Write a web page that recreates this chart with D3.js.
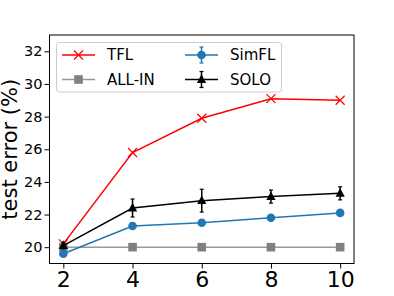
<!DOCTYPE html>
<html>
<head>
<meta charset="utf-8">
<script src="https://cdn.jsdelivr.net/npm/d3@7"></script>
<style>
  body { margin: 0; background: #fff; }
  text { font-family: "DejaVu Sans", sans-serif; }
</style>
</head>
<body>
<div id="chart"></div>
<script>
// data
var xs = [2, 4, 6, 8, 10];
var tfl = [20.2, 25.8, 27.9, 29.1, 29.0];
var allin = [20, 20, 20, 20, 20];
var simfl = [19.6, 21.3, 21.5, 21.8, 22.1];
var simflErr = [0.1, 0.1, 0.1, 0.1, 0.1];
var solo = [20.1, 22.4, 22.85, 23.1, 23.3];
var soloErr = [0.2, 0.55, 0.7, 0.4, 0.4];
var xTicks = [2, 4, 6, 8, 10];
var yTicks = [20, 22, 24, 26, 28, 30, 32];

var w = 394;
var h = 296;
var mLeft = 49.5, mRight = 354, mTop = 35, mBottom = 263.5;

var svg = d3.select("#chart").append("svg")
    .attr("width", w)
    .attr("height", h);

var x = d3.scaleLinear().domain([1.6, 10.4]).range([mLeft, mRight]);
var y = d3.scaleLinear().domain([19, 33]).range([mBottom, mTop]);

// axes
var xAxis = svg.append("g")
    .attr("transform", "translate(0," + mBottom + ")")
    .call(d3.axisBottom(x).tickValues(xTicks).tickSize(5).tickPadding(3).tickFormat(d3.format("d")));
xAxis.selectAll("text").attr("font-size", "22px").attr("fill", "#000");

var yAxis = svg.append("g")
    .attr("transform", "translate(" + mLeft + ",0)")
    .call(d3.axisLeft(y).tickValues(yTicks).tickSize(5).tickPadding(2).tickFormat(d3.format("d")));
yAxis.selectAll("text").attr("font-size", "14.5px").attr("fill", "#000");

svg.selectAll(".domain").remove();
svg.selectAll(".tick line").attr("stroke", "#000").attr("stroke-width", 1);

svg.append("rect")
    .attr("x", mLeft)
    .attr("y", mTop)
    .attr("width", mRight - mLeft)
    .attr("height", mBottom - mTop)
    .attr("fill", "none")
    .attr("stroke", "#000")
    .attr("stroke-width", 1);

svg.append("text")
    .attr("transform", "translate(17," + ((mTop + mBottom) / 2) + ") rotate(-90)")
    .attr("text-anchor", "middle")
    .attr("font-size", "21px")
    .text("test error (%)");

var line = d3.line()
    .x(function(d, i) { return x(xs[i]); })
    .y(function(d) { return y(d); });

var plot = svg.append("g");

function drawMarker(g, type, color, cx, cy) {
    if (type === "x") {
        g.append("path")
            .attr("d", "M" + (cx - 4.5) + "," + (cy - 4.5) + "L" + (cx + 4.5) + "," + (cy + 4.5) +
                "M" + (cx - 4.5) + "," + (cy + 4.5) + "L" + (cx + 4.5) + "," + (cy - 4.5))
            .attr("stroke", color)
            .attr("stroke-width", 1.2)
            .attr("fill", "none");
    } else if (type === "square") {
        g.append("rect")
            .attr("x", cx - 4.3).attr("y", cy - 4.3)
            .attr("width", 8.6).attr("height", 8.6)
            .attr("fill", color);
    } else if (type === "circle") {
        g.append("circle")
            .attr("cx", cx).attr("cy", cy).attr("r", 4.3)
            .attr("fill", color);
    } else if (type === "triangle") {
        g.append("path")
            .attr("d", "M" + cx + "," + (cy - 5.2) + "L" + (cx + 4.6) + "," + (cy + 3.4) + "L" + (cx - 4.6) + "," + (cy + 3.4) + "Z")
            .attr("fill", color);
    }
}

function drawErr(g, color, cx, y0, y1) {
    g.append("line")
        .attr("x1", cx).attr("x2", cx)
        .attr("y1", y0).attr("y2", y1)
        .attr("stroke", color).attr("stroke-width", 1.5);
    [y0, y1].forEach(function(yy) {
        g.append("line")
            .attr("x1", cx - 2).attr("x2", cx + 2)
            .attr("y1", yy).attr("y2", yy)
            .attr("stroke", color).attr("stroke-width", 1.2);
    });
}

var series = [
    { name: "TFL", values: tfl, err: null, color: "#ff0000", lineColor: "#ff0000", marker: "x" },
    { name: "ALL-IN", values: allin, err: null, color: "#808080", lineColor: "#999999", marker: "square" },
    { name: "SimFL", values: simfl, err: simflErr, color: "#1f77b4", lineColor: "#1f77b4", marker: "circle" },
    { name: "SOLO", values: solo, err: soloErr, color: "#000000", lineColor: "#000000", marker: "triangle" }
];

series.forEach(function(s) {
    var g = plot.append("g");
    g.append("path")
        .datum(s.values)
        .attr("d", line)
        .attr("fill", "none")
        .attr("stroke", s.lineColor)
        .attr("stroke-width", 1.5);
    if (s.err) {
        s.values.forEach(function(v, i) {
            drawErr(g, s.color, x(xs[i]), y(v - s.err[i]), y(v + s.err[i]));
        });
    }
    s.values.forEach(function(v, i) {
        drawMarker(g, s.marker, s.color, x(xs[i]), y(v));
    });
});

// legend
var legend = svg.append("g");
legend.append("rect")
    .attr("x", 56.5).attr("y", 42.5)
    .attr("width", 225).attr("height", 49.5)
    .attr("rx", 3)
    .attr("fill", "#fff").attr("fill-opacity", 0.8)
    .attr("stroke", "#cccccc").attr("stroke-width", 1);

var legendPos = [[62, 55], [62, 79.5], [185, 55], [185, 79.5]];
series.forEach(function(s, i) {
    var lx = legendPos[i][0], ly = legendPos[i][1];
    var g = legend.append("g");
    g.append("line")
        .attr("x1", lx).attr("x2", lx + 33)
        .attr("y1", ly).attr("y2", ly)
        .attr("stroke", s.lineColor).attr("stroke-width", 1.5);
    if (s.err) {
        drawErr(g, s.color, lx + 16.5, ly - 8, ly + 8);
    }
    drawMarker(g, s.marker, s.color, lx + 16.5, ly);
    g.append("text")
        .attr("x", lx + 45)
        .attr("y", ly + 5.3)
        .attr("font-size", "15px")
        .text(s.name);
});
</script>
</body>
</html>
